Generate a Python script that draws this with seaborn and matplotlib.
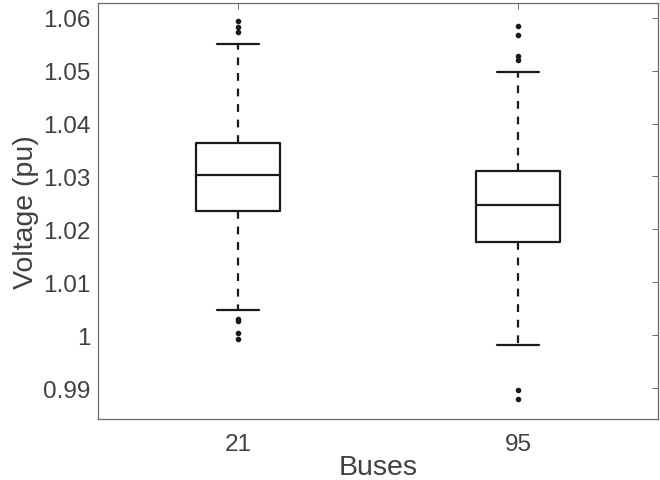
import pandas as pd
import matplotlib.pyplot as plt
import seaborn as sns

# Valores (quartis, bigodes e outliers por barramento)
buses = ["21", "95"]
bus21 = [0.9993, 1.0004, 1.0026, 1.0030, 1.0047,
         1.0234, 1.0234, 1.0250, 1.0270, 1.0290,
         1.0302, 1.0315, 1.0330, 1.0345, 1.0364,
         1.0364, 1.0450, 1.0551, 1.0574, 1.0583, 1.0594]
bus95 = [0.9879, 0.9896, 0.9981, 1.0050, 1.0120,
         1.0177, 1.0177, 1.0190, 1.0210, 1.0230,
         1.0247, 1.0260, 1.0275, 1.0295, 1.0311,
         1.0311, 1.0498, 1.0521, 1.0527, 1.0568, 1.0584]

df = pd.DataFrame({
    "Buses": [buses[0]] * len(bus21) + [buses[1]] * len(bus95),
    "Voltage": bus21 + bus95,
})

sns.set_style("white")
plt.rcParams['font.family'] = ['Liberation Sans', 'DejaVu Sans']

fig = plt.figure(figsize=(6.6, 4.81), dpi=100)
ax = fig.add_axes([0.1485, 0.1268, 0.8485, 0.8649])

line = dict(color="#1a1a1a", linewidth=1.6)
sns.boxplot(data=df, x="Buses", y="Voltage", order=buses, ax=ax,
            width=0.3, whis=1.5, fill=False, color="#1a1a1a", linewidth=1.6,
            boxprops=dict(color="#1a1a1a", linewidth=1.6),
            medianprops=line,
            capprops=line,
            whiskerprops=dict(color="#1a1a1a", linewidth=1.6, linestyle=(0, (3.5, 3.5))),
            flierprops=dict(marker="o", markersize=3, markerfacecolor="#1a1a1a",
                            markeredgecolor="#1a1a1a"))

ax.set_xlim(-0.5, 1.5)
ax.set_ylim(0.98415, 1.0628)
ax.set_yticks([0.99, 1.0, 1.01, 1.02, 1.03, 1.04, 1.05, 1.06])
ax.set_yticklabels(["0.99", "1", "1.01", "1.02", "1.03", "1.04", "1.05", "1.06"])

grey = "#404040"
for s in ax.spines.values():
    s.set_visible(True)
    s.set_color("#6a6a6a")
    s.set_linewidth(0.9)
ax.tick_params(direction="in", length=4, width=0.7, color="#6a6a6a",
               top=True, right=True, labelsize=17.5, labelcolor=grey)
ax.tick_params(axis="y", pad=5.5)
ax.tick_params(axis="x", pad=10)
ax.set_xlabel("Buses", fontsize=20.5, color=grey, labelpad=-1)
ax.set_ylabel("Voltage (pu)", fontsize=20.5, color=grey, labelpad=3)

plt.savefig("out.png", dpi=100)
